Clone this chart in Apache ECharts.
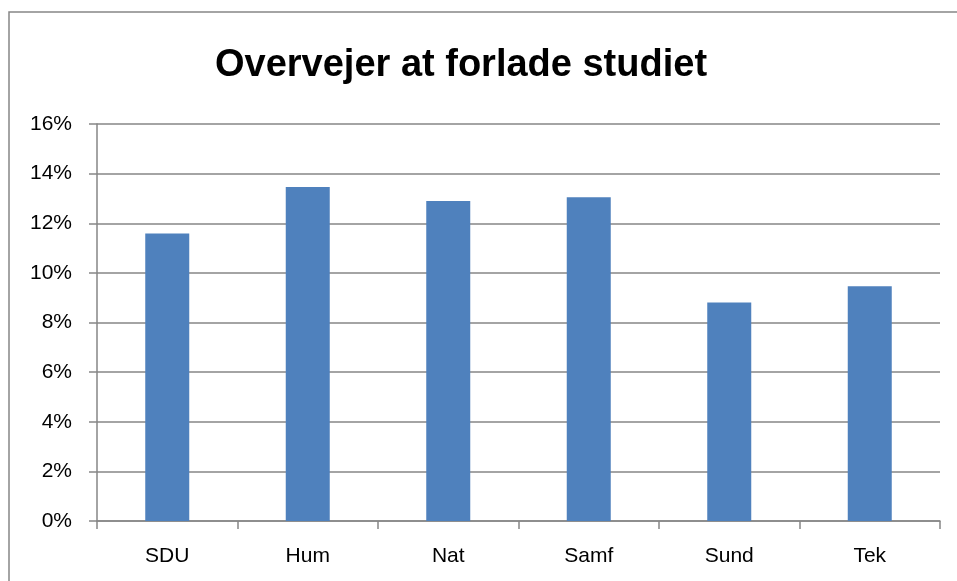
<!DOCTYPE html>
<html>
<head>
<meta charset="utf-8">
<script src="https://cdn.jsdelivr.net/npm/echarts@6/dist/echarts.min.js"></script>
<style>
html,body{margin:0;padding:0;background:#fff;}
#chart{width:957px;height:581px;}
</style>
</head>
<body>
<div id="chart"></div>
<script>
const categories = ['SDU', 'Hum', 'Nat', 'Samf', 'Sund', 'Tek'];
const values = [11.59, 13.46, 12.90, 13.05, 8.81, 9.46];
const titleText = 'Overvejer at forlade studiet';

const chart = echarts.init(document.getElementById('chart'));
const gray = '#868686';
const font = 'Liberation Sans';
chart.setOption({
  animation: false,
  backgroundColor: '#fff',
  graphic: [
    {
      type: 'rect',
      shape: { x: 9, y: 12, width: 1000, height: 700 },
      style: { fill: 'none', stroke: gray, lineWidth: 1.5 },
      z: 0
    },
    {
      type: 'text',
      x: 461, y: 66,
      style: {
        text: titleText,
        fontFamily: font, fontWeight: 'bold', fontSize: 38,
        fill: '#000', align: 'center', verticalAlign: 'middle'
      }
    }
  ],
  grid: { left: 97, right: 17, top: 124, bottom: 60 },
  xAxis: {
    type: 'category',
    data: categories,
    boundaryGap: true,
    axisLine: { show: true, lineStyle: { color: gray, width: 1.5 } },
    axisTick: { show: true, length: 8, alignWithLabel: false, lineStyle: { color: gray, width: 1.5 } },
    axisLabel: { color: '#000', fontFamily: font, fontSize: 21, margin: 25 }
  },
  yAxis: {
    type: 'value',
    min: 0, max: 16, interval: 2,
    axisLine: { show: true, lineStyle: { color: gray, width: 1.5 } },
    axisTick: { show: true, length: 8, lineStyle: { color: gray, width: 1.5 } },
    axisLabel: { color: '#000', fontFamily: font, fontSize: 21, margin: 25, formatter: v => v + '%' },
    splitLine: { show: true, lineStyle: { color: gray, width: 1.5 } }
  },
  series: [{
    type: 'bar',
    data: values,
    barWidth: 44,
    itemStyle: { color: '#4F81BD' }
  }]
});
</script>
</body>
</html>
